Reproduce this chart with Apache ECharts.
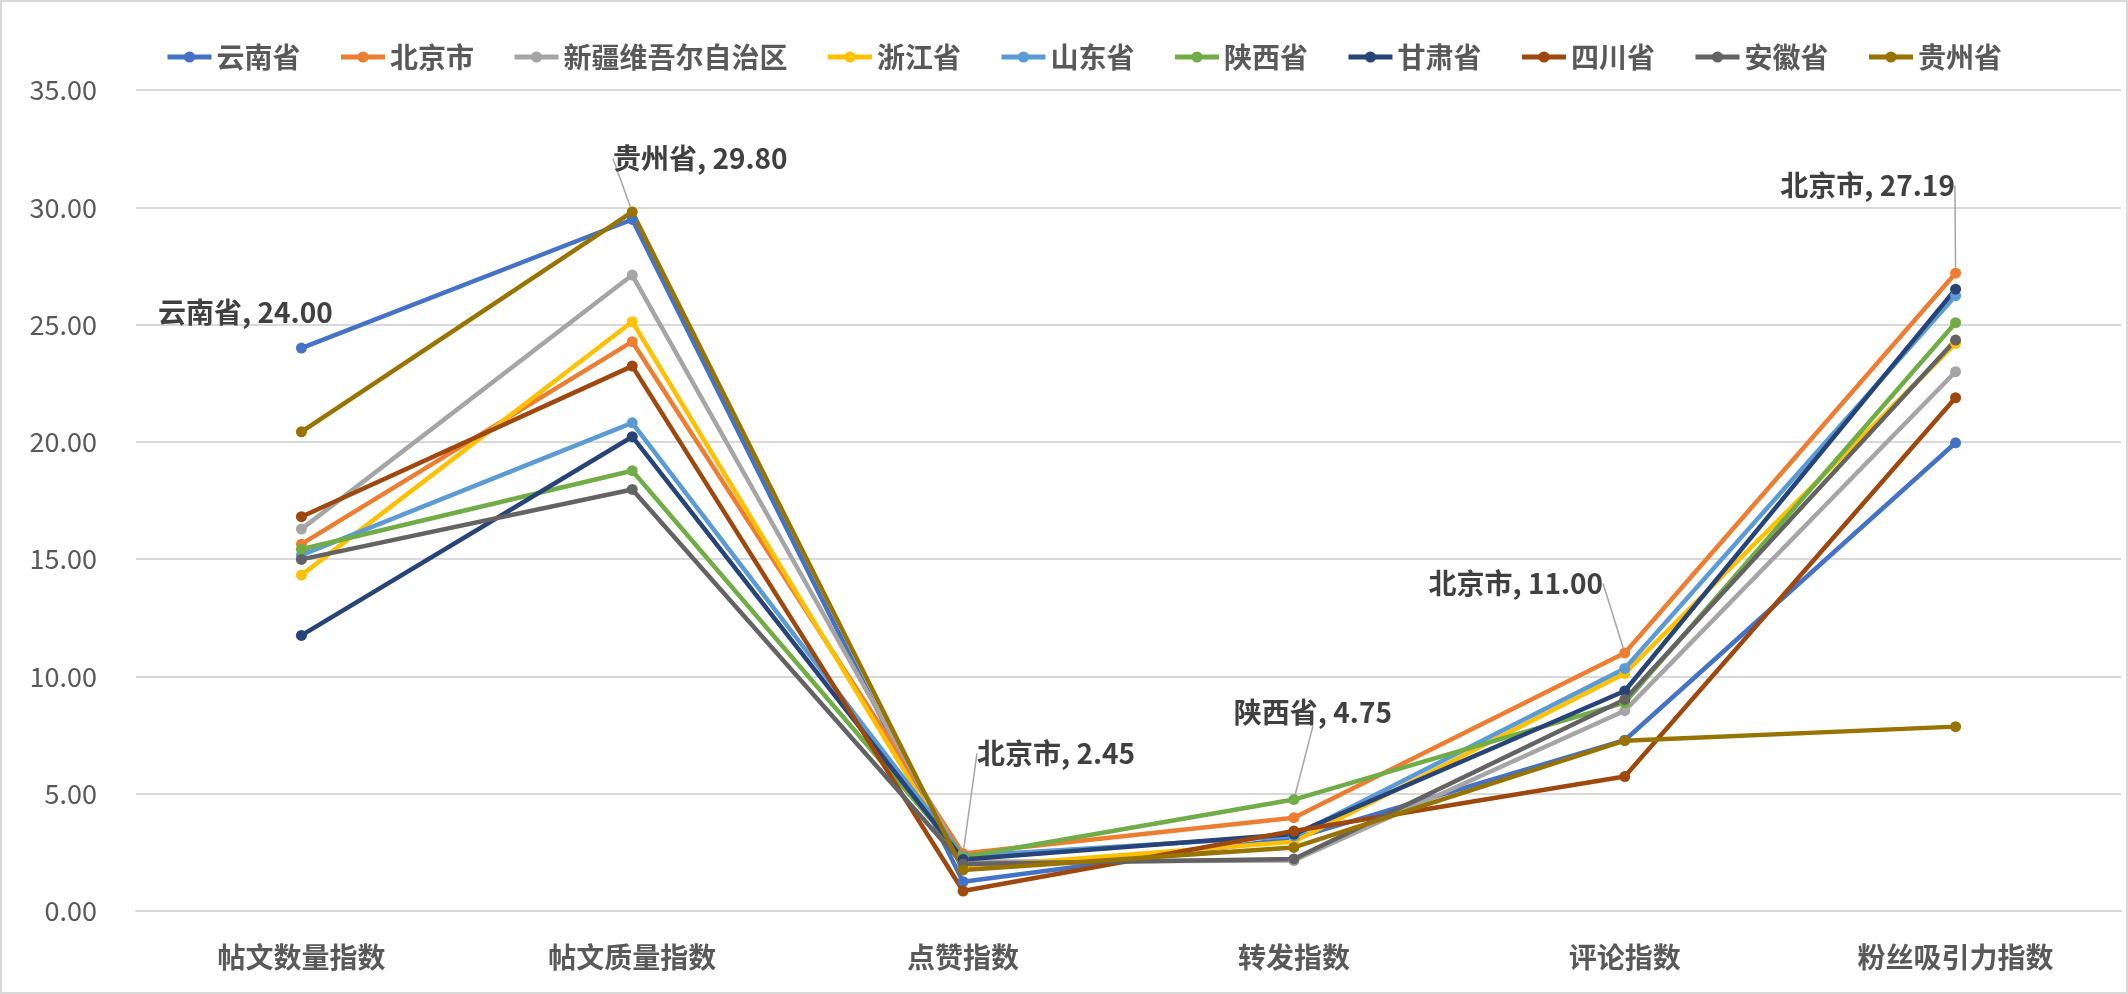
<!DOCTYPE html>
<html>
<head>
<meta charset="utf-8">
<title>指数折线图</title>
<script src="https://cdn.jsdelivr.net/npm/echarts@6/dist/echarts.min.js"></script>
<style>
	html, body { margin: 0; padding: 0; background: #fff; }
	#lineChart { width: 2128px; height: 994px; }
</style>
</head>
<body>
<div id="lineChart"></div>
<script>
// x轴类目
var categories = ['帖文数量指数', '帖文质量指数', '点赞指数', '转发指数', '评论指数', '粉丝吸引力指数'];
// y轴刻度
var yTicks = [0, 5, 10, 15, 20, 25, 30, 35];

// 各省数据
var yunnan   = [24.00, 29.48, 1.25, 3.10, 7.28, 19.96];
var beijing  = [15.64, 24.27, 2.45, 3.98, 11.00, 27.19];
var xinjiang = [16.28, 27.11, 2.10, 2.15, 8.54, 22.99];
var zhejiang = [14.32, 25.12, 1.85, 2.95, 10.13, 24.20];
var shandong = [15.17, 20.81, 2.35, 3.20, 10.34, 26.23];
var shaanxi  = [15.42, 18.77, 2.30, 4.75, 8.88, 25.08];
var gansu    = [11.75, 20.22, 2.20, 3.28, 9.38, 26.51];
var sichuan  = [16.81, 23.23, 0.85, 3.41, 5.73, 21.88];
var anhui    = [14.99, 17.97, 2.00, 2.22, 9.02, 24.34];
var guizhou  = [20.43, 29.80, 1.75, 2.71, 7.26, 7.86];

var seriesNames = ['云南省', '北京市', '新疆维吾尔自治区', '浙江省', '山东省', '陕西省', '甘肃省', '四川省', '安徽省', '贵州省'];
var seriesData = [yunnan, beijing, xinjiang, zhejiang, shandong, shaanxi, gansu, sichuan, anhui, guizhou];
var colors = ['#4472C4', '#ED7D31', '#A5A5A5', '#FFC000', '#5B9BD5', '#70AD47', '#264478', '#9E480E', '#636363', '#997300'];

// 需要显示数据标签的点: 序列下标, 类目下标, 偏移, 是否有引导线
var labelPoints = [
	{ s: 0, i: 0, dx: -56, dy: -11, line: false },
	{ s: 9, i: 1, dx: 68, dy: -29, line: true },
	{ s: 1, i: 2, dx: 93, dy: -76, line: true },
	{ s: 5, i: 3, dx: 19, dy: -63, line: true },
	{ s: 1, i: 4, dx: -109, dy: -45, line: true },
	{ s: 1, i: 5, dx: -88, dy: -63, line: true }
];

var fontCN = '"Noto Sans CJK SC", "Noto Sans", sans-serif';

function findLabel(s, i) {
	for (var k = 0; k < labelPoints.length; k++) {
		if (labelPoints[k].s === s && labelPoints[k].i === i) return labelPoints[k];
	}
	return null;
}

function buildSeries() {
	var list = [];
	for (var s = 0; s < seriesNames.length; s++) {
		var data = [];
		for (var i = 0; i < seriesData[s].length; i++) {
			var lp = findLabel(s, i);
			if (lp) {
				data.push({
					value: seriesData[s][i],
					label: { show: true },
					labelLine: { show: lp.line }
				});
			} else {
				data.push(seriesData[s][i]);
			}
		}
		list.push({
			name: seriesNames[s],
			type: 'line',
			data: data,
			symbol: 'circle',
			symbolSize: 11,
			color: colors[s],
			lineStyle: { width: 4.5, color: colors[s] },
			itemStyle: { color: colors[s] },
			animation: false,
			label: {
				show: false,
				position: 'top',
				fontFamily: fontCN,
				fontSize: 28,
				fontWeight: 'bold',
				color: '#404040',
				formatter: function (p) {
					return p.seriesName + ', ' + Number(p.value).toFixed(2);
				}
			},
			labelLine: {
				show: false,
				lineStyle: { color: '#A6A6A6', width: 1.5 }
			},
			labelLayout: function (params) {
				var lp = findLabel(params.seriesIndex, params.dataIndex);
				if (!lp) return {};
				return { dx: lp.dx, dy: lp.dy };
			}
		});
	}
	return list;
}

var lineChart = echarts.init(document.getElementById('lineChart'));

var chartOption = {
	backgroundColor: '#fff',
	animation: false,
	graphic: [{
		type: 'rect',
		shape: { x: 1, y: 1, width: 2126, height: 992 },
		style: { fill: 'none', stroke: '#D9D9D9', lineWidth: 2 },
		silent: true
	}],
	legend: {
		top: 38,
		left: 160,
		itemWidth: 44,
		itemHeight: 14,
		itemGap: 38,
		lineStyle: { width: 5 },
		itemStyle: { borderWidth: 0 },
		textStyle: {
			fontFamily: fontCN,
			fontSize: 28,
			fontWeight: 'bold',
			color: '#595959'
		},
		data: seriesNames
	},
	grid: {
		left: 136,
		right: 7,
		top: 90,
		bottom: 83,
		containLabel: false
	},
	xAxis: {
		type: 'category',
		data: categories,
		boundaryGap: true,
		axisLine: { show: true, lineStyle: { color: '#D9D9D9', width: 2 } },
		axisTick: { show: false },
		axisLabel: {
			interval: 0,
			margin: 32,
			fontFamily: fontCN,
			fontSize: 28,
			fontWeight: 'bold',
			color: '#595959'
		},
		splitLine: { show: false }
	},
	yAxis: {
		type: 'value',
		min: yTicks[0],
		max: yTicks[yTicks.length - 1],
		interval: yTicks[1] - yTicks[0],
		axisLine: { show: false },
		axisTick: { show: false },
		axisLabel: {
			margin: 39,
			fontFamily: fontCN,
			fontSize: 27,
			color: '#595959',
			formatter: function (v) { return v.toFixed(2); }
		},
		splitLine: { lineStyle: { color: '#D9D9D9', width: 2 } }
	},
	series: buildSeries()
};

lineChart.setOption(chartOption);
</script>
</body>
</html>
